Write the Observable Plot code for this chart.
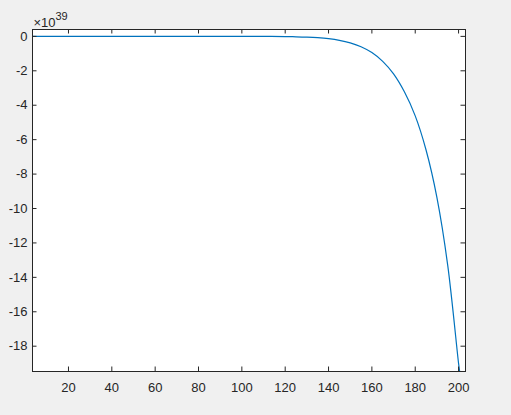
<!DOCTYPE html>
<html>
<head>
<meta charset="utf-8">
<script src="https://cdn.jsdelivr.net/npm/d3@7"></script>
<script src="https://cdn.jsdelivr.net/npm/@observablehq/plot@0.6"></script>
<style>
  html, body { margin: 0; padding: 0; background: #f0f0f0; }
</style>
</head>
<body>
<div id="chart"></div>
<script>
// x values and y values (in units of 1e39)
const xValues = [3.4, 20, 40, 60, 80, 100, 110, 120, 125, 130, 135, 140, 145, 150, 155, 160, 165, 170, 175, 180, 185, 190, 195, 200, 200.5];
const yValues = [0, 0, 0, 0, 0, -0.001, -0.003, -0.012, -0.023, -0.043, -0.077, -0.134, -0.228, -0.377, -0.6, -0.94, -1.45, -2.18, -3.22, -4.62, -6.6, -9.35, -13.3, -19.0, -19.47];
const xTicks = [20, 40, 60, 80, 100, 120, 140, 160, 180, 200];
const yTicks = [0, -2, -4, -6, -8, -10, -12, -14, -16, -18];
const xDomain = [3.4, 203.2];
const yDomain = [-19.47, 0.4];
const exponentBase = "\u00d710";
const exponentPower = "39";

const data = xValues.map((x, i) => ({x, y: yValues[i]}));

const W = 511, H = 415;
const mL = 32, mT = 29, mR = 46, mB = 44;
const frameW = W - mL - mR, frameH = H - mT - mB;
const tick = 4.5;
const axisColor = "#262626";
const font = "Liberation Sans, Arial, Helvetica, sans-serif";

const chart = Plot.plot({
  width: W,
  height: H,
  marginLeft: mL,
  marginTop: mT,
  marginRight: mR,
  marginBottom: mB,
  style: {background: "#f0f0f0", fontFamily: font, fontSize: "13px", color: axisColor},
  x: {domain: xDomain, label: null},
  y: {domain: yDomain, label: null},
  marks: [
    Plot.frame({fill: "white", stroke: null}),
    Plot.line(data, {x: "x", y: "y", stroke: "#0072BD", strokeWidth: 1.2, curve: "catmull-rom", clip: true}),
    // inward ticks on all four sides
    Plot.ruleX(xTicks, {x: d => d, insetTop: frameH - tick, stroke: axisColor}),
    Plot.ruleX(xTicks, {x: d => d, insetBottom: frameH - tick, stroke: axisColor}),
    Plot.ruleY(yTicks, {y: d => d, insetRight: frameW - tick, stroke: axisColor}),
    Plot.ruleY(yTicks, {y: d => d, insetLeft: frameW - tick, stroke: axisColor}),
    Plot.axisX(xTicks, {anchor: "bottom", tickSize: 0, tickPadding: 11, fontSize: 13, fill: axisColor}),
    Plot.axisY(yTicks, {anchor: "left", tickSize: 0, tickPadding: 5, fontSize: 13, fill: axisColor, tickFormat: d => d === 0 ? "0" : String(d)}),
    Plot.frame({stroke: axisColor, strokeWidth: 1}),
    Plot.text([exponentBase], {frameAnchor: "top-left", text: d => d, dx: 1, dy: -3, textAnchor: "start", lineAnchor: "bottom", fontSize: 13, fill: axisColor}),
    Plot.text([exponentPower], {frameAnchor: "top-left", text: d => d, dx: 23, dy: -10, textAnchor: "start", lineAnchor: "bottom", fontSize: 11, fill: axisColor})
  ]
});
document.getElementById("chart").appendChild(chart);
</script>
</body>
</html>
